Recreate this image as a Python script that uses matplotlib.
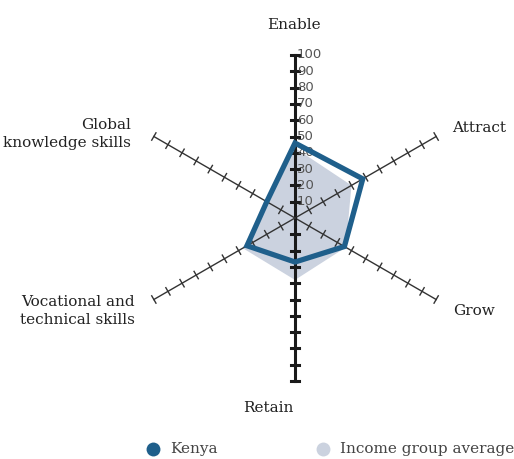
import numpy as np
import matplotlib.pyplot as plt

categories = ['Enable', 'Attract', 'Grow', 'Retain',
              'Vocational and\ntechnical skills', 'Global\nknowledge skills']
angles_deg = [90, 30, -30, -90, 210, 150]
kenya = [46, 48, 35, 27, 34, 20]
income_avg = [43, 40, 36, 38, 37, 20]
tick_values = [10, 20, 30, 40, 50, 60, 70, 80, 90, 100]

kenya_col = '#1f5f8b'
avg_col = '#cbd2df'
serif = ['DejaVu Serif']

fig = plt.figure(figsize=(5.14, 4.59), dpi=100)
ax = fig.add_axes([0, 0, 1, 1])
s = 1.63  # px per unit
cx, cy = 295, 218
ax.set_xlim(-cx / s, (514 - cx) / s)
ax.set_ylim(-(459 - cy) / s, cy / s)
ax.axis('off')

ang = np.radians(angles_deg)
ux, uy = np.cos(ang), np.sin(ang)

# polygons
xa = np.array(income_avg) * ux
ya = np.array(income_avg) * uy
ax.fill(xa, ya, color=avg_col, zorder=0.5, lw=0)
xk = np.array(kenya) * ux
yk = np.array(kenya) * uy
ax.fill(xk, yk, facecolor='none', edgecolor=kenya_col, lw=3.8, zorder=3, joinstyle='miter')

# axes with ticks
for i in range(len(categories)):
    if angles_deg[i] in (90, -90):
        ax.plot([0, 100 * ux[i]], [0, 100 * uy[i]], color='#1a1a1a', lw=2.2, zorder=1)
        for t in tick_values:
            ax.plot([-2.7, 2.7], [t * uy[i]] * 2, color='#1a1a1a', lw=2.2, zorder=1)
    else:
        ax.plot([0, 100 * ux[i]], [0, 100 * uy[i]], color='#333333', lw=1, zorder=1)
        px, py = -uy[i], ux[i]
        for t in tick_values:
            x0, y0 = t * ux[i], t * uy[i]
            ax.plot([x0 - 2.6 * px, x0 + 2.6 * px], [y0 - 2.6 * py, y0 + 2.6 * py],
                    color='#333333', lw=1, zorder=1)

for t in tick_values:
    ax.text(1.2, t, str(t), fontsize=9.5, color='#555555', va='center', ha='left', zorder=2)

def px2d(x, y):
    return (x - cx) / s, (cy - y) / s

label_pos = [(294, 25, 'center'), (452, 128, 'left'), (453, 311, 'left'),
             (268, 408, 'center'), (135, 311, 'right'), (131, 134, 'right')]
for name, (x, y, ha) in zip(categories, label_pos):
    dx, dy = px2d(x, y)
    ax.text(dx, dy, name, fontsize=11, family=serif, color='#222222',
            ha=ha, va='center', multialignment=ha if ha != 'center' else 'center',
            linespacing=1.3)

# legend
for (x, col, lab) in [(153, kenya_col, 'Kenya'), (323, avg_col, 'Income group average')]:
    dx, dy = px2d(x, 449)
    ax.plot(dx, dy, 'o', ms=10, color=col, mec='none')
    tx, ty = px2d(x + 17, 449)
    ax.text(tx, ty, lab, fontsize=11, family=serif, color='#444444', va='center', ha='left')

fig.savefig('out.png', dpi=100)
